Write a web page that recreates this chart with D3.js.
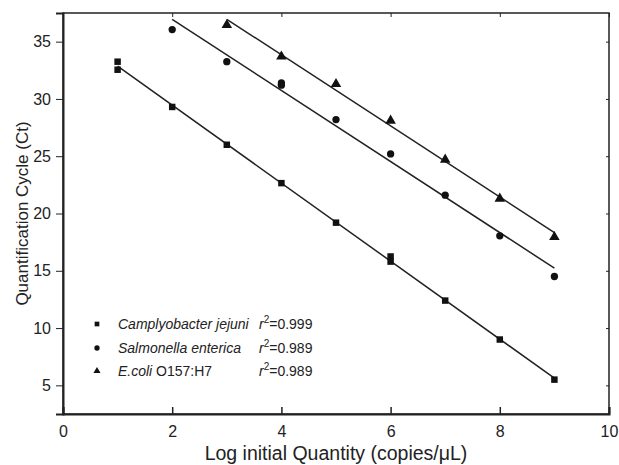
<!DOCTYPE html>
<html>
<head>
<meta charset="utf-8">
<script src="https://cdn.jsdelivr.net/npm/d3@7"></script>
<style>
  body { margin: 0; background: #fff; }
  text { font-family: "Liberation Sans", Arial, sans-serif; fill: #222; }
</style>
</head>
<body>
<script>
const width = 619;
const height = 465;

// data
const campyX = [1, 1, 2, 3, 4, 5, 6, 6, 7, 8, 9];
const campyY = [33.25, 32.55, 29.3, 26.0, 22.65, 19.2, 16.25, 15.8, 12.4, 9.0, 5.5];
const salmX = [2, 3, 4, 4, 5, 6, 7, 8, 9];
const salmY = [36.05, 33.25, 31.4, 31.2, 28.2, 25.2, 21.6, 18.05, 14.5];
const ecoliX = [3, 4, 5, 6, 7, 8, 9];
const ecoliY = [36.45, 33.7, 31.3, 28.1, 24.7, 21.3, 17.95];

const xTicks = [0, 2, 4, 6, 8, 10];
const yTicks = [5, 10, 15, 20, 25, 30, 35];

const series = [
  {italic: 'Camplyobacter jejuni', plain: '', r2: '0.999', xs: campyX, ys: campyY, sym: d3.symbolSquare, size: 42},
  {italic: 'Salmonella enterica', plain: '', r2: '0.989', xs: salmX, ys: salmY, sym: d3.symbolCircle, size: 42},
  {italic: 'E.coli', plain: ' O157:H7', r2: '0.989', xs: ecoliX, ys: ecoliY, sym: d3.symbolTriangle, size: 48}
];

const margin = {top: 13, right: 10, bottom: 51, left: 63};
const w = width - margin.left - margin.right;
const h = height - margin.top - margin.bottom;

const svg = d3.select('body').append('svg').attr('width', width).attr('height', height);
const g = svg.append('g').attr('transform', `translate(${margin.left},${margin.top})`);

const x = d3.scaleLinear().domain([0, 10]).range([0, w]);
const y = d3.scaleLinear().domain([2.5, 37.5]).range([h, 0]);

// frame
g.append('rect').attr('width', w).attr('height', h)
  .attr('fill', 'none').attr('stroke', '#222').attr('stroke-width', 1.5);

// bottom axis, ticks pointing in
const xAxis = g.append('g').attr('transform', `translate(0,${h})`)
  .call(d3.axisBottom(x).tickValues(xTicks).tickSize(-7).tickPadding(12).tickFormat(d3.format('d')));
xAxis.select('.domain').attr('stroke-width', 2).attr('stroke', '#222');
xAxis.selectAll('line').attr('stroke-width', 1.5).attr('stroke', '#222');
xAxis.selectAll('text').attr('font-size', 16).attr('fill', '#222');

// top ticks
g.append('g').call(d3.axisTop(x).tickValues(xTicks).tickSize(-4).tickFormat(''))
  .call(a => a.select('.domain').remove())
  .selectAll('line').attr('stroke', '#222');

// left axis, ticks pointing out
const yAxis = g.append('g')
  .call(d3.axisLeft(y).tickValues(yTicks).tickSize(7).tickPadding(5));
yAxis.select('.domain').attr('stroke-width', 2).attr('stroke', '#222');
yAxis.selectAll('line').attr('stroke', '#222');
yAxis.selectAll('text').attr('font-size', 16).attr('fill', '#222');

// right ticks
g.append('g').attr('transform', `translate(${w},0)`)
  .call(d3.axisRight(y).tickValues(yTicks).tickSize(-3).tickFormat(''))
  .call(a => a.select('.domain').remove())
  .selectAll('line').attr('stroke', '#222');

// axis titles
svg.append('text')
  .attr('x', margin.left + w / 2).attr('y', 460)
  .attr('text-anchor', 'middle').attr('font-size', 19.5)
  .text('Log initial Quantity (copies/μL)');
svg.append('text')
  .attr('transform', `translate(28,${margin.top + h / 2}) rotate(-90)`)
  .attr('text-anchor', 'middle').attr('font-size', 17)
  .text('Quantification Cycle (Ct)');

// least squares fit per series
function fit(xs, ys) {
  const mx = d3.mean(xs), my = d3.mean(ys);
  const b = d3.sum(xs, (v, i) => (v - mx) * (ys[i] - my)) / d3.sum(xs, v => (v - mx) * (v - mx));
  return {b: b, a: my - b * mx};
}

series.forEach(s => {
  const f = fit(s.xs, s.ys);
  const x0 = d3.min(s.xs), x1 = d3.max(s.xs);
  g.append('line')
    .attr('x1', x(x0)).attr('y1', y(f.a + f.b * x0))
    .attr('x2', x(x1)).attr('y2', y(f.a + f.b * x1))
    .attr('stroke', '#222').attr('stroke-width', 1.5);

  g.selectAll(null)
    .data(s.xs.map((v, i) => [v, s.ys[i]]))
    .enter()
    .append('path')
    .attr('d', d3.symbol().type(s.sym).size(s.size))
    .attr('transform', d => `translate(${x(d[0])},${y(d[1])})`)
    .attr('fill', '#111');
});

// legend
const legY = [324, 348, 371];
series.forEach((s, i) => {
  const row = svg.append('g').attr('transform', `translate(0,${legY[i]})`);
  row.append('path')
    .attr('d', d3.symbol().type(s.sym).size(22))
    .attr('transform', 'translate(97,0)')
    .attr('fill', '#111');
  const t = row.append('text').attr('x', 118).attr('y', 5).attr('font-size', 14);
  t.append('tspan').attr('font-style', 'italic').text(s.italic);
  if (s.plain) t.append('tspan').text(s.plain);
  const r = row.append('text').attr('x', 259).attr('y', 5).attr('font-size', 14);
  r.append('tspan').attr('font-style', 'italic').text('r');
  r.append('tspan').attr('font-size', 10).attr('dy', -6).text('2');
  r.append('tspan').attr('dy', 6).text('=' + s.r2);
});
</script>
</body>
</html>
